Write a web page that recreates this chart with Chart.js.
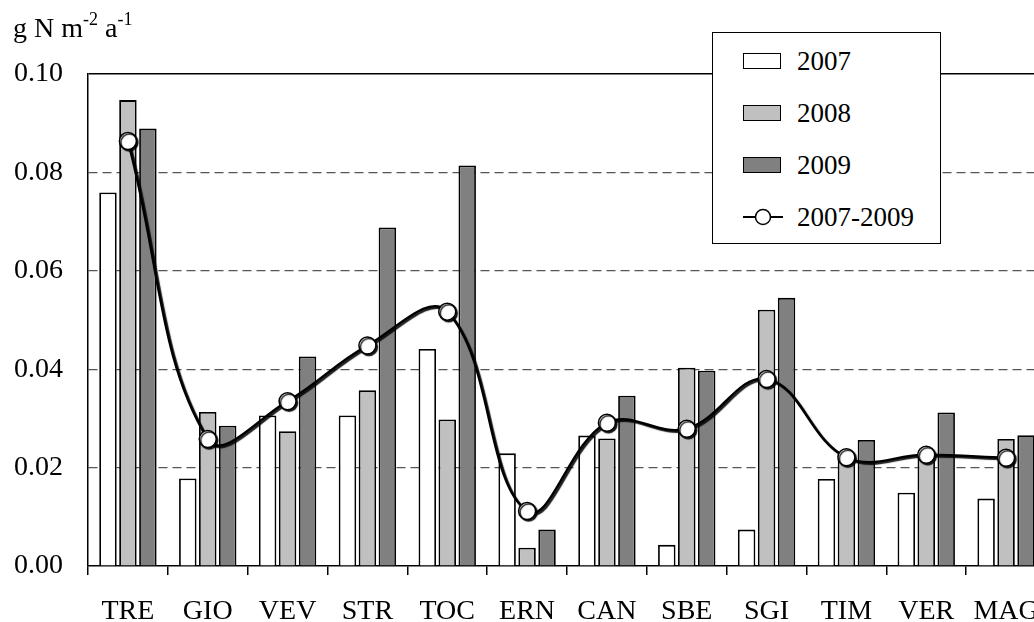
<!DOCTYPE html>
<html>
<head>
<meta charset="utf-8">
<script src="https://cdn.jsdelivr.net/npm/chart.js@4/dist/chart.umd.min.js"></script>
<style>
  html, body { margin: 0; padding: 0; background: #fff; overflow: hidden; }
  #wrap { position: relative; width: 1034px; height: 622px; overflow: hidden; }
  #chart { position: absolute; left: 0; top: 0; }
  .ytitle { position: absolute; left: 13px; top: 12px; font: 28px "Liberation Serif", serif; color: #000; white-space: nowrap; }
  .ytitle sup { font-size: 18px; vertical-align: 12px; line-height: 0; }
  .legend { position: absolute; left: 712px; top: 32px; width: 227px; height: 210px; border: 1.5px solid #000; background: #fff; }
  .item { position: absolute; left: 30px; height: 30px; font: 27px "Liberation Serif", serif; color: #000; }
  .swatch { position: absolute; left: 0; top: 7px; width: 38px; height: 16px; border: 1.5px solid #000; box-sizing: border-box; }
  .item span { position: absolute; left: 54px; top: 0; line-height: 30px; white-space: nowrap; }
  .item svg { position: absolute; left: 0; top: 0; }
</style>
</head>
<body>
<div id="wrap">
  <canvas id="chart" width="1060" height="622"></canvas>
  <div class="ytitle">g N m<sup>-2</sup> a<sup>-1</sup></div>
  <div class="legend">
    <div class="item" style="top:13px"><div class="swatch" style="background:#ffffff"></div><span>2007</span></div>
    <div class="item" style="top:65px"><div class="swatch" style="background:#c0c0c0"></div><span>2008</span></div>
    <div class="item" style="top:117px"><div class="swatch" style="background:#808080"></div><span>2009</span></div>
    <div class="item" style="top:169px">
      <svg width="42" height="30"><line x1="0" y1="15" x2="40" y2="15" stroke="#000" stroke-width="2"/><circle cx="20" cy="15" r="7.5" fill="#fff" stroke="#000" stroke-width="1.5"/></svg>
      <span>2007-2009</span>
    </div>
  </div>
</div>
<script>
const categories = ["TRE", "GIO", "VEV", "STR", "TOC", "ERN", "CAN", "SBE", "SGI", "TIM", "VER", "MAG"];
const values2007 = [0.0759, 0.0178, 0.0306, 0.0306, 0.0441, 0.0229, 0.0265, 0.0043, 0.0074, 0.0177, 0.0149, 0.0137];
const values2008 = [0.0947, 0.0313, 0.0274, 0.0357, 0.0298, 0.0037, 0.0259, 0.0403, 0.0521, 0.0225, 0.0222, 0.0258];
const values2009 = [0.0889, 0.0285, 0.0426, 0.0688, 0.0814, 0.0074, 0.0346, 0.0397, 0.0545, 0.0256, 0.0312, 0.0266];
const valuesMean = [0.0864, 0.0258, 0.0335, 0.0448, 0.0517, 0.0112, 0.0291, 0.0279, 0.0380, 0.0221, 0.0226, 0.0220];
const yTicks = [0, 0.02, 0.04, 0.06, 0.08, 0.10];

const font = { family: "Liberation Serif", size: 28 };

// shadow under the mean line and its markers
const shadowPlugin = {
  id: "lineShadow",
  beforeDatasetDraw(chart, args) {
    if (args.index !== 3) return;
    const ctx = chart.ctx;
    ctx.save();
    ctx.shadowColor = "rgba(0,0,0,0.9)";
    ctx.shadowOffsetX = 1.5;
    ctx.shadowOffsetY = 1.5;
    ctx.shadowBlur = 1;
  },
  afterDatasetDraw(chart, args) {
    if (args.index !== 3) return;
    chart.ctx.restore();
  }
};

const barStyle = {
  borderColor: "#000",
  borderWidth: 1.8,
  categoryPercentage: 0.75,
  barPercentage: 0.875,
  order: 2
};

new Chart(document.getElementById("chart"), {
  type: "bar",
  data: {
    labels: categories,
    datasets: [
      { label: "2007", data: values2007, backgroundColor: "#ffffff", ...barStyle },
      { label: "2008", data: values2008, backgroundColor: "#c0c0c0", ...barStyle },
      { label: "2009", data: values2009, backgroundColor: "#808080", ...barStyle },
      {
        type: "line",
        label: "2007-2009",
        data: valuesMean,
        borderColor: "#000",
        borderWidth: 2.5,
        tension: 0.4,
        pointRadius: 8.5,
        pointBackgroundColor: "#fff",
        pointBorderColor: "#000",
        pointBorderWidth: 1.5,
        order: 1
      }
    ]
  },
  options: {
    responsive: false,
    devicePixelRatio: 1,
    animation: false,
    layout: { padding: { top: 74, right: 14, left: 0, bottom: 0 } },
    plugins: { legend: { display: false }, tooltip: { enabled: false } },
    scales: {
      x: {
        afterFit: (s) => { s.height = 56; },
        grid: { drawOnChartArea: false, drawTicks: true, tickLength: 9, color: "#000", lineWidth: 1.5, offset: true },
        border: { color: "#000", width: 1.5 },
        ticks: { color: "#000", font: font, padding: 20, maxRotation: 0, autoSkip: false }
      },
      y: {
        min: 0,
        max: 0.1,
        afterFit: (s) => { s.width = 88; },
        afterBuildTicks: (s) => { s.ticks = yTicks.map((v) => ({ value: v })); },
        grid: {
          drawTicks: false,
          color: (c) => (c.tick && c.tick.value >= 0.1 ? "#000" : c.tick && c.tick.value === 0 ? "rgba(0,0,0,0)" : "#555"),
          lineWidth: (c) => (c.tick && c.tick.value >= 0.1 ? 1.5 : 1.2)
        },
        border: {
          color: "#000",
          width: 1.5,
          dash: (c) => (c.tick && c.tick.value >= 0.1 ? [] : [9, 5])
        },
        ticks: {
          color: "#000",
          font: font,
          padding: 25,
          callback: (v) => Number(v).toFixed(2)
        }
      }
    }
  },
  plugins: [shadowPlugin]
});
</script>
</body>
</html>
